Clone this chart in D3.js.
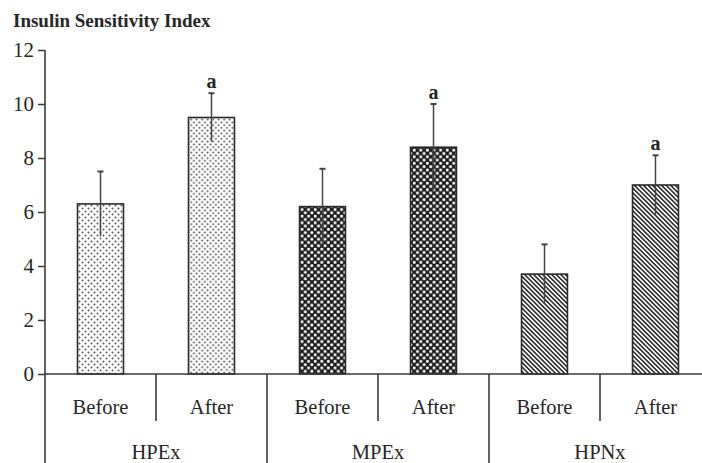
<!DOCTYPE html>
<html><head><meta charset="utf-8">
<script src="https://cdn.jsdelivr.net/npm/d3@7"></script>
<style>html,body{margin:0;padding:0;background:#fff;}svg{display:block;}</style>
</head><body>
<svg id="c" width="702" height="463"></svg>
<script>
const groups = ["HPEx", "MPEx", "HPNx"];
const phases = ["Before", "After"];
const means = [6.3, 9.5, 6.2, 8.4, 3.7, 7.0];
const sds = [1.2, 0.9, 1.4, 1.6, 1.1, 1.1];
const marks = ["", "a", "", "a", "", "a"];
const yTicks = [0, 2, 4, 6, 8, 10, 12];
const title = "Insulin Sensitivity Index";
const patterns = ["dotsA", "dotsB", "check", "check", "stripe", "stripe"];

const svg = d3.select("#c");
const font = "'Liberation Serif','Times New Roman',serif";
const ink = "#3a3a3a";
const txt = "#262626";

const defs = svg.append("defs");
let p = defs.append("pattern").attr("id","dotsA").attr("patternUnits","userSpaceOnUse").attr("width",6).attr("height",6);
p.append("rect").attr("width",6).attr("height",6).attr("fill","#fff");
p.append("circle").attr("cx",1.5).attr("cy",1.5).attr("r",1.0).attr("fill","#5a5a5a");
p.append("circle").attr("cx",4.5).attr("cy",4.5).attr("r",1.0).attr("fill","#5a5a5a");
p = defs.append("pattern").attr("id","dotsB").attr("patternUnits","userSpaceOnUse").attr("width",5.5).attr("height",5.5);
p.append("rect").attr("width",5.5).attr("height",5.5).attr("fill","#fff");
p.append("circle").attr("cx",1.4).attr("cy",1.4).attr("r",1.0).attr("fill","#4a4a4a");
p.append("circle").attr("cx",4.15).attr("cy",4.15).attr("r",1.0).attr("fill","#4a4a4a");
p = defs.append("pattern").attr("id","check").attr("patternUnits","userSpaceOnUse").attr("width",6.6).attr("height",6.6);
p.append("rect").attr("width",6.6).attr("height",6.6).attr("fill","#1a1a1a");
p.append("rect").attr("x",0.3).attr("y",0.3).attr("width",2.8).attr("height",2.8).attr("rx",0.9).attr("fill","#fff");
p.append("rect").attr("x",3.6).attr("y",3.6).attr("width",2.8).attr("height",2.8).attr("rx",0.9).attr("fill","#fff");
p = defs.append("pattern").attr("id","stripe").attr("patternUnits","userSpaceOnUse").attr("width",3.2).attr("height",3.2).attr("patternTransform","rotate(-45)");
p.append("rect").attr("width",3.2).attr("height",3.2).attr("fill","#fff");
p.append("rect").attr("width",1.6).attr("height",3.2).attr("fill","#2e2e2e");

const x0 = 45, step = 111;
const keys = d3.range(means.length);
const x = d3.scaleBand().domain(keys).range([x0, x0 + step * keys.length]).paddingInner(0.586).paddingOuter(0.293);
const y = d3.scaleLinear().domain([0, 12]).range([374, 50]);

svg.append("text").attr("x", 13).attr("y", 27).attr("font-family", font).attr("font-weight","bold")
  .attr("font-size", 19).attr("fill", txt).text(title);

const yAxis = d3.axisLeft(y).tickValues(yTicks).tickSize(7).tickPadding(4);
const gy = svg.append("g").attr("transform", `translate(${x0},0)`).call(yAxis);
gy.select(".domain").remove();
gy.selectAll(".tick line").attr("stroke", ink).attr("stroke-width", 1.5);
gy.selectAll(".tick text").attr("font-family", font).attr("font-size", 21).attr("fill", txt);
svg.append("line").attr("x1", x0).attr("x2", x0).attr("y1", y(12)).attr("y2", 463).attr("stroke", ink).attr("stroke-width", 1.6);

svg.append("g").selectAll("rect").data(keys).join("rect")
  .attr("x", d => x(d)).attr("width", x.bandwidth())
  .attr("y", d => y(means[d])).attr("height", d => y(0) - y(means[d]))
  .attr("fill", d => `url(#${patterns[d]})`).attr("stroke", "#2a2a2a").attr("stroke-width", 1.6);

const eb = svg.append("g").attr("stroke", "#444").attr("stroke-width", 1.5);
keys.forEach(d => {
  const cx = x(d) + x.bandwidth() / 2;
  eb.append("line").attr("x1", cx).attr("x2", cx).attr("y1", y(means[d] - sds[d])).attr("y2", y(means[d] + sds[d]));
  eb.append("line").attr("x1", cx - 3).attr("x2", cx + 3).attr("y1", y(means[d] + sds[d])).attr("y2", y(means[d] + sds[d])).attr("stroke-width", 2);
});

svg.append("g").selectAll("text").data(keys.filter(d => marks[d])).join("text")
  .attr("x", d => x(d) + x.bandwidth() / 2).attr("y", d => y(means[d] + sds[d]) - 5)
  .attr("text-anchor", "middle").attr("font-family", font).attr("font-weight", "bold")
  .attr("font-size", 20).attr("fill", txt).text(d => marks[d]);

svg.append("line").attr("x1", x0).attr("x2", 702).attr("y1", y(0)).attr("y2", y(0)).attr("stroke", ink).attr("stroke-width", 1.6);

const lab = svg.append("g").attr("font-family", font).attr("fill", txt);
keys.forEach(d => {
  const slotL = x(d) - x.step() * x.paddingOuter();
  const slotR = slotL + x.step();
  const cx = (slotL + slotR) / 2;
  lab.append("text").attr("x", cx).attr("y", 414).attr("text-anchor", "middle").attr("font-size", 20.5)
    .text(phases[d % 2]);
  if (d % 2 === 0 && d > 0) {
    svg.append("line").attr("x1", slotL).attr("x2", slotL).attr("y1", y(0)).attr("y2", 463).attr("stroke", ink).attr("stroke-width", 1.6);
  }
  if (d % 2 === 1) {
    svg.append("line").attr("x1", slotL).attr("x2", slotL).attr("y1", y(0)).attr("y2", 421).attr("stroke", ink).attr("stroke-width", 1.6);
  }
});
groups.forEach((g, i) => {
  const l = x(i * 2) - x.step() * x.paddingOuter();
  lab.append("text").attr("x", l + x.step()).attr("y", 459).attr("text-anchor", "middle").attr("font-size", 20.5).text(g);
});
</script>
</body></html>
